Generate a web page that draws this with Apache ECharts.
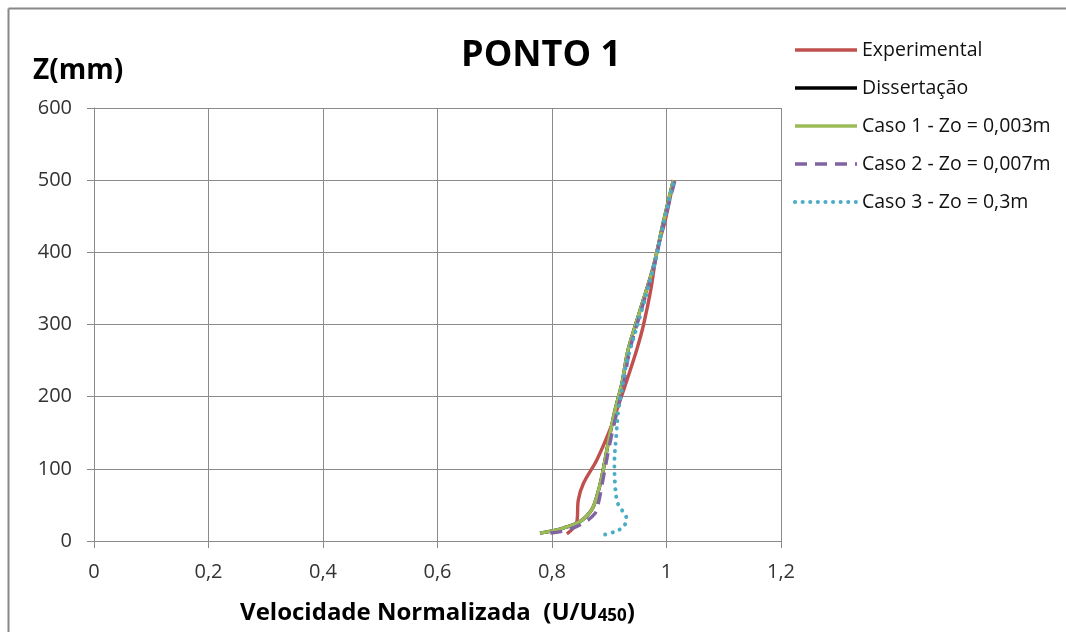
<!DOCTYPE html>
<html>
<head>
<meta charset="utf-8">
<script src="https://cdn.jsdelivr.net/npm/echarts@6/dist/echarts.min.js"></script>
<style>
html,body{margin:0;padding:0;background:#fff;}
#chart{width:1066px;height:632px;}
</style>
</head>
<body>
<div id="chart"></div>
<script>
// ---- data ----
const seriesNames = ['Experimental', 'Dissertação', 'Caso 1 - Zo = 0,003m', 'Caso 2 - Zo = 0,007m', 'Caso 3 - Zo = 0,3m'];

const expU = [0.826, 0.843, 0.846, 0.855, 0.878, 0.901, 0.919, 0.933, 0.948, 0.960, 0.973, 0.983, 0.998, 1.009, 1.012];
const expZ = [10, 25, 57, 80, 112, 154, 195, 228, 265, 300, 350, 400, 445, 486, 500];

// Dissertação is not visible separately: it lies under Caso 1
const disU = [0.779, 0.820, 0.849, 0.869, 0.878, 0.887, 0.898, 0.910, 0.922, 0.933, 0.954, 0.977, 0.994, 1.012];
const disZ = [11, 18, 27, 43, 61, 89, 135, 181, 218, 265, 320, 380, 440, 500];

const c1U = [0.779, 0.820, 0.849, 0.869, 0.878, 0.887, 0.898, 0.910, 0.922, 0.933, 0.954, 0.977, 0.994, 1.012];
const c1Z = [11, 18, 27, 43, 61, 89, 135, 181, 218, 265, 320, 380, 440, 500];

const c2U = [0.797, 0.826, 0.855, 0.875, 0.881, 0.890, 0.901, 0.913, 0.925, 0.936, 0.956, 0.978, 0.995, 1.015];
const c2Z = [11, 15, 25, 38, 52, 89, 135, 177, 218, 265, 320, 380, 440, 500];

const c3U = [0.893, 0.910, 0.925, 0.930, 0.922, 0.914, 0.910, 0.909, 0.912, 0.916, 0.922, 0.930, 0.957, 0.978, 0.995, 1.013];
const c3Z = [9, 13, 20, 31, 43, 54, 80, 108, 144, 181, 209, 246, 320, 380, 440, 500];

const xTicks = {min: 0, max: 1.2, interval: 0.2};
const yTicks = {min: 0, max: 600, interval: 100};

const titleText = 'PONTO 1';
const yName = 'Z(mm)';

// ---- build ----
const pairs = (u, z) => u.map((v, i) => [v, z[i]]);
const colors = ['#C0504D', '#000000', '#9BBB59', '#8064A2', '#4BACC6'];
const styles = [
  {type: 'solid', width: 3.4},
  {type: 'solid', width: 3.4},
  {type: 'solid', width: 3.4},
  {type: [12, 8], width: 3.4},
  {type: [0.1, 7.5], width: 4, cap: 'round'}
];
const datas = [pairs(expU, expZ), pairs(disU, disZ), pairs(c1U, c1Z), pairs(c2U, c2Z), pairs(c3U, c3Z)];
const order = [1, 0, 2, 3, 4]; // draw z-order
const series = seriesNames.map((n, i) => ({
  name: n,
  type: 'line',
  data: datas[i],
  smooth: 0.35,
  symbol: 'none',
  showSymbol: false,
  z: 2 + order[i],
  lineStyle: Object.assign({color: colors[i]}, styles[i]),
  itemStyle: {color: colors[i]},
  animation: false
}));

const fmt = v => String(Math.round(v * 10) / 10).replace('.', ',');
const ff = '"Open Sans", "Noto Sans", sans-serif';

const legendData = seriesNames.map((n, i) => ({
  name: n,
  itemStyle: {opacity: 0, borderWidth: 0},
  lineStyle: Object.assign({color: colors[i]}, styles[i])
}));

const chart = echarts.init(document.getElementById('chart'), null, {renderer: 'canvas'});
chart.setOption({
  backgroundColor: '#fff',
  animation: false,
  textStyle: {fontFamily: ff},
  title: {
    text: titleText,
    left: 541, top: 38, textAlign: 'center', padding: 0,
    textStyle: {fontFamily: ff, fontSize: 36, fontWeight: 'bold', color: '#000'}
  },
  legend: {
    orient: 'vertical',
    left: 793, top: 40, padding: 0,
    itemWidth: 62, itemHeight: 14, itemGap: 18,
    data: legendData,
    itemStyle: {opacity: 0, borderWidth: 0},
    textStyle: {fontFamily: ff, fontSize: 19.5, color: '#111', lineHeight: 20},
    selectedMode: false
  },
  grid: {left: 94, top: 108, right: 285, bottom: 91, containLabel: false, outerBoundsMode: 'none'},
  xAxis: {
    type: 'value',
    min: xTicks.min, max: xTicks.max, interval: xTicks.interval,
    name: 'Velocidade Normalizada  (U/U{sub|450})',
    nameLocation: 'middle', nameGap: 60,
    nameTextStyle: {
      fontFamily: ff, fontSize: 24, fontWeight: 'bold', color: '#000',
      rich: {sub: {fontFamily: ff, fontSize: 17, fontWeight: 'bold', color: '#000', verticalAlign: 'bottom', padding: [7, 0, 0, 0]}}
    },
    axisLine: {show: true, lineStyle: {color: '#8a8a8a', width: 1}},
    axisTick: {show: true, length: 7, lineStyle: {color: '#8a8a8a'}},
    axisLabel: {formatter: fmt, fontFamily: ff, fontSize: 20, color: '#333', margin: 21},
    splitLine: {show: true, lineStyle: {color: '#8a8a8a', width: 1}}
  },
  yAxis: {
    type: 'value',
    min: yTicks.min, max: yTicks.max, interval: yTicks.interval,
    axisLine: {show: true, lineStyle: {color: '#8a8a8a', width: 1}},
    axisTick: {show: true, length: 7, lineStyle: {color: '#8a8a8a'}},
    axisLabel: {fontFamily: ff, fontSize: 20, color: '#333', margin: 22},
    splitLine: {show: true, lineStyle: {color: '#8a8a8a', width: 1}}
  },
  graphic: [
    {type: 'line', shape: {x1: 8.5, y1: 8.5, x2: 1066, y2: 8.5}, style: {stroke: '#888', lineWidth: 2}, silent: true},
    {type: 'line', shape: {x1: 8.5, y1: 8.5, x2: 8.5, y2: 632}, style: {stroke: '#888', lineWidth: 2}, silent: true},
    {type: 'text', left: 33, top: 57, style: {text: yName, fontFamily: ff, fontSize: 28, fontWeight: 'bold', fill: '#000'}, silent: true}
  ],
  series: series
});
</script>
</body>
</html>
